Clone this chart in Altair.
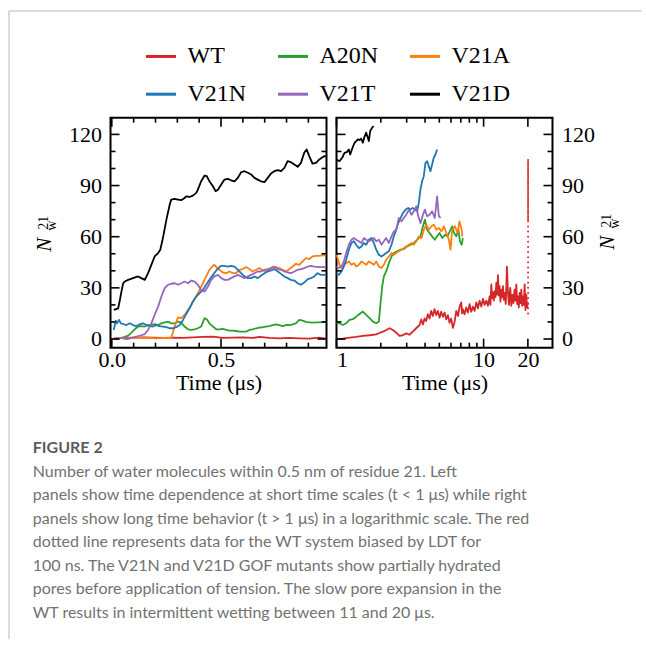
import altair as alt
import pandas as pd

SERIES = ["WT", "A20N", "V21A", "V21N", "V21T", "V21D"]
COLORS = ["#d62728", "#2ca02c", "#ff7f0e", "#1f77b4", "#9467bd", "#000000"]

# ---------------- left panel (0 - 1 us, linear) ----------------
WT_L_T = [0.009, 0.052, 0.097, 0.143, 0.189, 0.234, 0.280, 0.326, 0.371, 0.417, 0.463, 0.508,
          0.554, 0.600, 0.645, 0.676, 0.721, 0.767, 0.813, 0.858, 0.904, 0.950, 0.980]
WT_L_V = [0.2, 0.6, 0.8, 1.0, 0.8, 0.6, 0.8, 0.6, 1.0, 1.2, 1.4, 0.6,
          0.8, 1.0, 0.6, 1.2, 0.6, 0.4, 0.6, 0.4, 0.2, 0.8, 0.2]

A20N_L_T = [0.009, 0.029, 0.044, 0.059, 0.075, 0.090, 0.105, 0.120, 0.135, 0.151, 0.166, 0.181,
            0.196, 0.212, 0.227, 0.242, 0.257, 0.272, 0.288, 0.303, 0.318, 0.333, 0.349, 0.364,
            0.379, 0.394, 0.409, 0.425, 0.435, 0.447, 0.463, 0.478, 0.493, 0.508, 0.524, 0.539,
            0.554, 0.569, 0.584, 0.600, 0.615, 0.630, 0.645, 0.661, 0.676, 0.691, 0.706, 0.721,
            0.737, 0.752, 0.767, 0.782, 0.798, 0.813, 0.828, 0.843, 0.858, 0.874, 0.889, 0.904,
            0.919, 0.935, 0.950, 0.980]
A20N_L_V = [0.2, 0.2, 0.6, 1.2, 2.0, 3.7, 5.7, 7.3, 7.6, 7.3, 8.2, 8.2,
            8.8, 8.2, 9.2, 9.8, 10.2, 9.2, 9.2, 10.2, 9.6, 7.3, 5.7, 5.3,
            5.7, 6.3, 7.3, 12.2, 11.6, 9.2, 7.3, 5.7, 5.7, 5.9, 5.3, 4.9,
            4.9, 4.7, 4.3, 4.3, 4.3, 5.3, 5.7, 6.3, 6.7, 6.9, 7.3, 7.6,
            8.2, 8.6, 8.2, 7.6, 8.2, 8.2, 8.6, 9.2, 11.2, 10.8, 10.0, 9.8,
            9.6, 9.8, 9.8, 10.0]

V21A_L_T = [0.009, 0.037, 0.067, 0.113, 0.158, 0.204, 0.250, 0.272, 0.288, 0.303, 0.318, 0.333,
            0.349, 0.364, 0.387, 0.402, 0.417, 0.432, 0.447, 0.463, 0.470, 0.478, 0.493, 0.508,
            0.524, 0.539, 0.554, 0.569, 0.584, 0.600, 0.615, 0.630, 0.645, 0.661, 0.676, 0.691,
            0.706, 0.721, 0.737, 0.752, 0.767, 0.782, 0.798, 0.813, 0.828, 0.843, 0.858, 0.874,
            0.889, 0.904, 0.919, 0.935, 0.950, 0.973, 0.980]
V21A_L_V = [0.2, 0.6, 0.2, 0.6, 0.8, 0.4, 0.6, 0.6, 7.3, 12.7, 12.2, 14.1,
            17.1, 20.0, 25.3, 28.8, 32.7, 36.7, 40.6, 42.9, 43.5, 42.2, 40.6, 39.0,
            38.6, 39.6, 38.6, 38.6, 40.6, 41.0, 42.2, 41.0, 39.6, 40.6, 41.6, 40.2,
            39.6, 40.6, 42.5, 42.2, 41.6, 40.6, 39.6, 41.0, 42.5, 44.1, 43.5, 45.5,
            47.5, 46.9, 48.4, 48.8, 48.8, 49.2, 48.8]

V21N_L_T = [0.009, 0.018, 0.024, 0.033, 0.041, 0.052, 0.067, 0.082, 0.097, 0.113, 0.128, 0.143,
            0.158, 0.174, 0.189, 0.204, 0.219, 0.234, 0.250, 0.265, 0.280, 0.295, 0.311, 0.326,
            0.341, 0.356, 0.371, 0.387, 0.402, 0.417, 0.432, 0.447, 0.463, 0.478, 0.493, 0.501,
            0.516, 0.531, 0.546, 0.562, 0.577, 0.592, 0.607, 0.623, 0.638, 0.653, 0.668, 0.683,
            0.699, 0.714, 0.729, 0.744, 0.760, 0.775, 0.790, 0.805, 0.820, 0.836, 0.851, 0.866,
            0.881, 0.897, 0.912, 0.927, 0.942, 0.957, 0.980]
V21N_L_V = [5.3, 10.8, 9.2, 11.2, 9.2, 8.8, 8.2, 9.2, 8.2, 7.6, 8.6, 9.2,
            8.2, 7.6, 7.3, 8.2, 7.6, 7.3, 6.9, 6.3, 6.3, 6.9, 8.2, 11.2,
            14.7, 18.0, 22.0, 24.9, 26.9, 28.8, 31.8, 34.7, 37.6, 40.2, 42.2, 42.9,
            42.9, 42.5, 42.9, 42.5, 40.6, 38.6, 36.7, 35.7, 35.7, 36.7, 35.7, 37.1,
            38.6, 39.6, 40.2, 41.0, 39.6, 38.2, 36.7, 35.7, 34.7, 34.3, 32.7, 31.8,
            33.1, 35.1, 35.7, 36.7, 38.6, 37.6, 37.6]

V21T_L_T = [0.009, 0.029, 0.044, 0.067, 0.090, 0.113, 0.135, 0.151, 0.166, 0.181, 0.196, 0.212,
            0.227, 0.242, 0.257, 0.272, 0.288, 0.303, 0.318, 0.333, 0.349, 0.364, 0.379, 0.394,
            0.409, 0.425, 0.440, 0.455, 0.470, 0.486, 0.501, 0.516, 0.531, 0.546, 0.562, 0.577,
            0.592, 0.607, 0.623, 0.638, 0.653, 0.668, 0.683, 0.699, 0.714, 0.729, 0.744, 0.760,
            0.775, 0.790, 0.805, 0.820, 0.836, 0.851, 0.866, 0.881, 0.897, 0.912, 0.927, 0.950,
            0.980]
V21T_L_V = [0.2, 0.2, 0.6, 0.0, 0.6, 1.4, 2.2, 2.9, 5.3, 9.2, 14.1, 19.0,
            24.9, 29.8, 31.8, 32.4, 32.7, 31.8, 32.7, 33.7, 32.7, 34.3, 33.7, 31.8,
            28.8, 27.8, 30.8, 34.7, 36.7, 37.6, 35.7, 34.7, 34.7, 35.7, 36.7, 37.6,
            36.7, 35.7, 36.7, 37.6, 38.6, 39.6, 39.6, 40.6, 41.0, 41.6, 42.2, 41.0,
            40.6, 39.6, 39.0, 38.6, 39.6, 40.6, 41.0, 41.6, 42.5, 42.9, 42.5, 42.2,
            42.2]

V21D_L_T = [0.009, 0.029, 0.037, 0.044, 0.052, 0.059, 0.075, 0.097, 0.120, 0.135, 0.151, 0.166,
            0.181, 0.196, 0.212, 0.222, 0.234, 0.250, 0.265, 0.272, 0.288, 0.303, 0.318, 0.333,
            0.341, 0.356, 0.371, 0.387, 0.394, 0.409, 0.425, 0.435, 0.447, 0.463, 0.475, 0.486,
            0.501, 0.516, 0.531, 0.546, 0.562, 0.577, 0.592, 0.607, 0.623, 0.638, 0.653, 0.668,
            0.683, 0.699, 0.714, 0.729, 0.744, 0.760, 0.775, 0.790, 0.805, 0.820, 0.836, 0.851,
            0.866, 0.881, 0.892, 0.904, 0.919, 0.935, 0.950, 0.973, 0.980]
V21D_L_V = [17.1, 18.0, 22.9, 27.8, 32.7, 33.7, 34.7, 35.7, 36.7, 35.7, 34.7, 38.6,
            43.5, 48.4, 50.4, 52.4, 59.2, 70.0, 78.8, 81.8, 82.2, 81.8, 81.4, 82.7,
            83.7, 83.3, 84.1, 85.7, 87.6, 92.5, 95.9, 95.5, 92.5, 89.6, 86.7, 87.6,
            90.6, 93.5, 93.9, 93.1, 92.5, 94.5, 97.8, 98.4, 97.5, 96.5, 94.5, 93.5,
            92.5, 92.0, 94.5, 97.1, 98.4, 99.0, 98.4, 100.4, 104.3, 103.7, 102.4, 101.0,
            103.3, 109.2, 111.2, 107.3, 102.9, 103.3, 105.3, 107.3, 106.9]

# ---------------- right panel (1 - 30 us, log) ----------------
WT_R_T = [1.00, 1.10, 1.23, 1.36, 1.51, 1.68, 1.86, 1.96, 2.07, 2.18, 2.29, 2.42,
          2.55, 2.68, 2.82, 2.98, 3.13, 3.30, 3.48, 3.67, 3.77, 3.87, 3.97, 4.07,
          4.18, 4.29, 4.40, 4.52, 4.64, 4.76, 4.89, 5.02, 5.15, 5.29, 5.43, 5.57,
          5.72, 5.87, 6.02, 6.18, 6.35, 6.52, 6.70, 6.87, 7.05, 7.14, 7.23, 7.42,
          7.62, 7.82, 8.03, 8.24, 8.46, 8.69, 8.92, 9.15, 9.39, 9.64, 9.90, 10.16,
          10.43, 10.70, 10.99, 11.13, 11.28, 11.43, 11.58, 11.73, 11.88, 12.04, 12.20, 12.36,
          12.52, 12.68, 12.85, 13.02, 13.19, 13.36, 13.54, 13.72, 13.90, 14.15, 14.41, 14.64,
          14.87, 15.02, 15.18, 15.42, 15.67, 15.95, 16.25, 16.47, 16.69, 16.91, 17.13, 17.35,
          17.58, 17.81, 18.04, 18.28, 18.52, 18.76, 19.01, 19.26, 19.51, 19.76, 20.02]
WT_R_V = [0.0, 0.2, 0.8, 1.2, 1.8, 2.2, 2.7, 3.5, 4.3, 5.3, 6.3, 5.3,
          3.7, 1.8, 2.2, 3.3, 2.5, 4.3, 6.3, 8.2, 11.5, 8.5, 12.0, 10.5,
          14.5, 12.0, 16.5, 13.5, 17.5, 14.0, 16.5, 12.5, 16.0, 13.0, 15.5, 11.5,
          14.0, 9.5, 12.0, 6.5, 10.0, 16.5, 13.5, 19.0, 21.5, 15.0, 17.5, 14.5,
          18.5, 15.5, 20.5, 16.0, 19.0, 16.5, 21.5, 18.0, 22.5, 19.0, 23.5, 20.0,
          22.5, 19.5, 25.0, 20.0, 32.0, 24.0, 27.5, 22.5, 28.0, 24.5, 33.0, 26.0,
          37.5, 25.5, 31.0, 22.0, 29.0, 24.5, 31.0, 23.0, 27.0, 20.5, 42.5, 27.0,
          20.0, 26.5, 30.0, 19.5, 26.0, 21.0, 29.0, 22.5, 32.0, 20.5, 25.0, 18.5,
          27.0, 21.0, 29.0, 19.5, 25.0, 20.0, 32.0, 17.0, 26.0, 18.5, 21.0]

A20N_R_T = [1.000, 1.048, 1.104, 1.163, 1.226, 1.291, 1.361, 1.434, 1.511, 1.592, 1.677, 1.767,
            1.862, 1.941, 1.992, 2.045, 2.099, 2.177, 2.269, 2.365, 2.454, 2.587, 2.728, 2.869,
            3.020, 3.183, 3.357, 3.535, 3.722, 3.868, 3.990, 4.130, 4.295, 4.466, 4.657, 4.830,
            5.012, 5.242, 5.466, 5.668, 5.891, 6.114, 6.302, 6.517, 6.740, 6.905, 7.097, 7.230]
A20N_R_V = [9.6, 9.2, 8.2, 9.2, 11.2, 11.6, 13.1, 14.7, 16.1, 14.1, 12.2, 10.2,
            9.2, 10.2, 21.0, 30.8, 36.7, 39.6, 44.5, 48.4, 50.4, 51.4, 52.4, 52.7,
            54.3, 55.3, 56.3, 58.2, 60.2, 66.1, 70.0, 64.1, 62.2, 60.2, 58.2, 60.2,
            62.2, 59.2, 61.2, 60.2, 63.1, 66.1, 62.2, 60.2, 64.1, 57.3, 55.3, 59.2]

V21A_R_T = [1.000, 1.026, 1.048, 1.081, 1.122, 1.163, 1.213, 1.265, 1.312, 1.361, 1.419, 1.479,
            1.534, 1.592, 1.659, 1.730, 1.795, 1.862, 1.941, 2.023, 2.099, 2.177, 2.269, 2.365,
            2.454, 2.547, 2.654, 2.767, 2.869, 2.975, 3.104, 3.237, 3.357, 3.481, 3.627, 3.787,
            3.921, 4.077, 4.239, 4.428, 4.584, 4.770, 4.963, 5.175, 5.371, 5.584, 5.806, 5.958,
            6.114, 6.380, 6.659, 6.844, 7.097, 7.171]
V21A_R_V = [49.4, 46.5, 43.5, 41.6, 43.5, 44.5, 45.5, 43.5, 44.5, 42.5, 43.5, 45.5,
            44.5, 43.5, 45.5, 44.5, 43.5, 45.5, 42.5, 41.6, 43.5, 46.5, 48.4, 50.4,
            49.4, 50.4, 51.4, 52.4, 53.3, 54.3, 55.3, 56.3, 55.3, 57.3, 60.2, 59.2,
            64.1, 67.1, 64.1, 66.1, 67.1, 64.1, 65.1, 63.1, 66.1, 62.2, 58.2, 52.4,
            64.1, 66.1, 62.2, 69.0, 64.1, 60.2]

V21N_R_T = [1.000, 1.037, 1.081, 1.122, 1.163, 1.213, 1.265, 1.312, 1.361, 1.419, 1.479, 1.534,
            1.592, 1.659, 1.730, 1.795, 1.862, 1.941, 2.023, 2.099, 2.177, 2.269, 2.365, 2.454,
            2.547, 2.629, 2.728, 2.830, 2.950, 3.075, 3.183, 3.300, 3.410, 3.535, 3.627, 3.722,
            3.820, 3.921, 4.024, 4.130, 4.239, 4.351, 4.466, 4.584, 4.705, 4.830]
V21N_R_V = [38.6, 37.6, 39.6, 42.5, 46.5, 52.4, 56.3, 57.3, 55.3, 53.3, 54.3, 56.3,
            55.3, 58.2, 59.2, 56.3, 52.4, 49.4, 48.4, 49.4, 50.4, 51.4, 55.3, 60.2,
            64.1, 68.0, 71.0, 73.9, 75.9, 76.9, 75.9, 76.9, 75.9, 74.9, 79.8, 87.6,
            92.5, 95.5, 103.3, 104.3, 101.4, 98.4, 102.4, 106.3, 108.2, 111.2]

V21T_R_T = [1.000, 1.037, 1.081, 1.122, 1.163, 1.213, 1.265, 1.312, 1.361, 1.419, 1.479, 1.534,
            1.592, 1.659, 1.730, 1.795, 1.862, 1.941, 2.023, 2.099, 2.177, 2.269, 2.365, 2.454,
            2.547, 2.654, 2.767, 2.869, 2.975, 3.104, 3.237, 3.357, 3.481, 3.597, 3.722, 3.868,
            3.990, 4.130, 4.295, 4.466, 4.657, 4.830, 4.963, 5.099]
V21T_R_V = [42.5, 41.6, 42.5, 45.5, 50.4, 55.3, 58.2, 59.2, 58.2, 57.3, 56.3, 59.2,
            58.2, 57.3, 58.2, 59.2, 57.3, 58.2, 55.3, 57.3, 59.2, 56.3, 60.2, 63.1,
            64.1, 71.0, 69.0, 71.0, 72.9, 75.9, 72.9, 74.9, 77.8, 72.0, 68.0, 72.9,
            75.9, 72.0, 72.9, 74.9, 71.0, 83.7, 72.0, 71.0]

V21D_R_T = [1.000, 1.048, 1.093, 1.133, 1.176, 1.213, 1.239, 1.278, 1.326, 1.361, 1.397, 1.434,
            1.471, 1.511, 1.550, 1.591, 1.633, 1.659, 1.694, 1.748, 1.785]
V21D_R_V = [105.3, 104.3, 106.3, 109.2, 109.6, 111.2, 108.2, 111.6, 115.1, 116.1, 117.1, 116.7,
            117.5, 115.1, 118.6, 121.0, 118.0, 116.1, 122.0, 123.9, 124.9]

# WT biased by LDT for 100 ns (red dotted)
LDT_T = [20.05] * 55
LDT_V = [15, 18, 21, 24, 27, 30, 33, 36, 39, 42, 45, 48, 51, 54, 57, 60, 63, 66, 69,
         70, 71, 72, 73, 74, 75, 76, 77, 78, 79, 80, 81, 82, 83, 84, 85, 86, 87, 88,
         89, 90, 91, 92, 93, 94, 95, 96, 97, 98, 99, 100, 101, 102, 103, 104, 105]

# ---------------- axes / ticks / text ----------------
Y_MAJOR = [0, 30, 60, 90, 120]
Y_MINOR = [10, 20, 40, 50, 70, 80, 100, 110]
XL_MAJOR = [0.0, 0.5]
XL_MINOR = [0.1, 0.2, 0.3, 0.4, 0.6, 0.7, 0.8, 0.9]
XR_MAJOR = [1, 10, 20]
XR_MINOR = [2, 3, 4, 5, 6, 7, 8, 9]
X_TITLE = "Time (μs)"
CAPTION_HEAD = "FIGURE 2"
CAPTION_LINES = [
    "Number of water molecules within 0.5 nm of residue 21. Left",
    "panels show time dependence at short time scales (t < 1 μs) while right",
    "panels show long time behavior (t > 1 μs) in a logarithmic scale. The red",
    "dotted line represents data for the WT system biased by LDT for",
    "100 ns. The V21N and V21D GOF mutants show partially hydrated",
    "pores before application of tension. The slow pore expansion in the",
    "WT results in intermittent wetting between 11 and 20 μs.",
]

SERIF = "Liberation Serif"
SANS = "Lato"
W, H = 216, 230
MAJ, MIN = 9, 5


def long_frame(parts):
    rows = []
    for s, ts, vs in parts:
        for t, v in zip(ts, vs):
            rows.append({"series": s, "t": t, "n": v})
    return pd.DataFrame(rows)


left_df = long_frame([("WT", WT_L_T, WT_L_V), ("A20N", A20N_L_T, A20N_L_V),
                      ("V21A", V21A_L_T, V21A_L_V), ("V21N", V21N_L_T, V21N_L_V),
                      ("V21T", V21T_L_T, V21T_L_V), ("V21D", V21D_L_T, V21D_L_V)])
right_df = long_frame([("WT", WT_R_T, WT_R_V), ("A20N", A20N_R_T, A20N_R_V),
                       ("V21A", V21A_R_T, V21A_R_V), ("V21N", V21N_R_T, V21N_R_V),
                       ("V21T", V21T_R_T, V21T_R_V), ("V21D", V21D_R_T, V21D_R_V)])
ldt_df = pd.DataFrame({"t": LDT_T, "n": LDT_V})

y_scale = alt.Scale(domain=[-5.1, 129.8], nice=False, zero=False)
xl_scale = alt.Scale(domain=[-0.006, 0.983], nice=False, zero=False)
xr_scale = alt.Scale(type="log", domain=[1, 29.4], nice=False)

xl_axis = alt.Axis(values=XL_MAJOR, format=".1f", title=X_TITLE)
xr_axis = alt.Axis(values=XR_MAJOR, format="~g", title=X_TITLE)
yl_axis = alt.Axis(values=Y_MAJOR, orient="left", title=None)
yr_axis = alt.Axis(values=Y_MAJOR, orient="right", title=None)

legend = alt.Legend(orient="none", legendX=34, legendY=-78, columns=3, direction="horizontal",
                    title=None, symbolType="stroke", symbolSize=900, symbolStrokeWidth=3,
                    labelFont=SERIF, labelFontSize=24, labelColor="black",
                    labelOffset=10, columnPadding=25, rowPadding=9, padding=0)
color = alt.Color("series:N", scale=alt.Scale(domain=SERIES, range=COLORS),
                  legend=legend, sort=SERIES)

one = pd.DataFrame({"k": [0]})


def tick_layers(xvals_major, xvals_minor, x_scale, x_axis, y_axis):
    layers = []
    for vals, ln in ((xvals_major, MAJ), (xvals_minor, MIN)):
        d = pd.DataFrame({"v": vals})
        base = alt.Chart(d).mark_rule(color="black", strokeWidth=1.6)
        layers.append(base.encode(x=alt.X("v:Q", scale=x_scale, axis=x_axis),
                                  y=alt.value(H), y2=alt.value(H - ln)))
        layers.append(base.encode(x=alt.X("v:Q", scale=x_scale, axis=x_axis),
                                  y=alt.value(0), y2=alt.value(ln)))
    for vals, ln in ((Y_MAJOR, MAJ), (Y_MINOR, MIN)):
        d = pd.DataFrame({"v": vals})
        base = alt.Chart(d).mark_rule(color="black", strokeWidth=1.6)
        layers.append(base.encode(y=alt.Y("v:Q", scale=y_scale, axis=y_axis),
                                  x=alt.value(0), x2=alt.value(ln)))
        layers.append(base.encode(y=alt.Y("v:Q", scale=y_scale, axis=y_axis),
                                  x=alt.value(W), x2=alt.value(W - ln)))
    return layers


def ytitle(x0, y0):
    n = alt.Chart(one).mark_text(text="N", font=SERIF, fontStyle="italic", fontSize=21,
                                 angle=270, align="center", baseline="middle").encode(
        x=alt.value(x0), y=alt.value(y0))
    sup = alt.Chart(one).mark_text(text="21", font=SERIF, fontSize=14, angle=270,
                                   align="center", baseline="middle").encode(
        x=alt.value(x0 - 1), y=alt.value(y0 - 22))
    sub = alt.Chart(one).mark_text(text="w", font=SERIF, fontSize=14, angle=270,
                                   align="center", baseline="middle").encode(
        x=alt.value(x0 + 7), y=alt.value(y0 - 19))
    return [n, sup, sub]


left_lines = alt.Chart(left_df).mark_line(strokeWidth=1.8, strokeJoin="round").encode(
    x=alt.X("t:Q", scale=xl_scale, axis=xl_axis),
    y=alt.Y("n:Q", scale=y_scale, axis=yl_axis),
    color=color,
)

border = [
    alt.Chart(one).mark_rule(color="#cfcfcf", strokeWidth=1.5).encode(
        x=alt.value(-101.5), y=alt.value(-106.7), y2=alt.value(521.5)),
    alt.Chart(one).mark_rule(color="#cfcfcf", strokeWidth=1.5).encode(
        x=alt.value(-101.5), x2=alt.value(531), y=alt.value(-106.7)),
]

caption = [
    alt.Chart(one).mark_text(text=CAPTION_HEAD, font=SANS, fontSize=16, fontWeight="bold",
                             color="#5c5c5c", align="left", baseline="alphabetic").encode(
        x=alt.value(-77.7), y=alt.value(335)),
    alt.Chart(one).mark_text(text=CAPTION_LINES, font=SANS, fontSize=16, lineHeight=23.5,
                             color="#727272", align="left", baseline="alphabetic").encode(
        x=alt.value(-77.7), y=alt.value(359.3)),
]

left = alt.layer(left_lines, *border, *tick_layers(XL_MAJOR, XL_MINOR, xl_scale, xl_axis, yl_axis),
                 *ytitle(-65.5, 127), *caption).properties(width=W, height=H)

right_lines = alt.Chart(right_df).mark_line(strokeWidth=1.8, strokeJoin="round").encode(
    x=alt.X("t:Q", scale=xr_scale, axis=xr_axis),
    y=alt.Y("n:Q", scale=y_scale, axis=yr_axis),
    color=color,
)
ldt = alt.Chart(ldt_df).mark_circle(size=4, opacity=1, color="#d62728").encode(
    x=alt.X("t:Q", scale=xr_scale, axis=xr_axis),
    y=alt.Y("n:Q", scale=y_scale, axis=yr_axis),
)

right = alt.layer(right_lines, ldt, *tick_layers(XR_MAJOR, XR_MINOR, xr_scale, xr_axis, yr_axis),
                  *ytitle(272, 125)).properties(width=W, height=H)

chart = (
    alt.hconcat(left, right, spacing=10, bounds="flush")
    .properties(padding={"left": 6.5, "top": 8.7, "right": 0, "bottom": 0},
                background="white")
    .configure_view(stroke="black", strokeWidth=2)
    .configure_axis(grid=False, domain=False, ticks=False, tickSize=0,
                    labelFont=SERIF, labelFontSize=22, labelColor="black",
                    labelPadding=9, titleFont=SERIF, titleFontSize=22,
                    titleFontWeight="normal", titleColor="black", titlePadding=2)
    .configure_axisX(labelPadding=2)
)

chart.save("out.html", embed_options={"renderer": "svg", "actions": False})
